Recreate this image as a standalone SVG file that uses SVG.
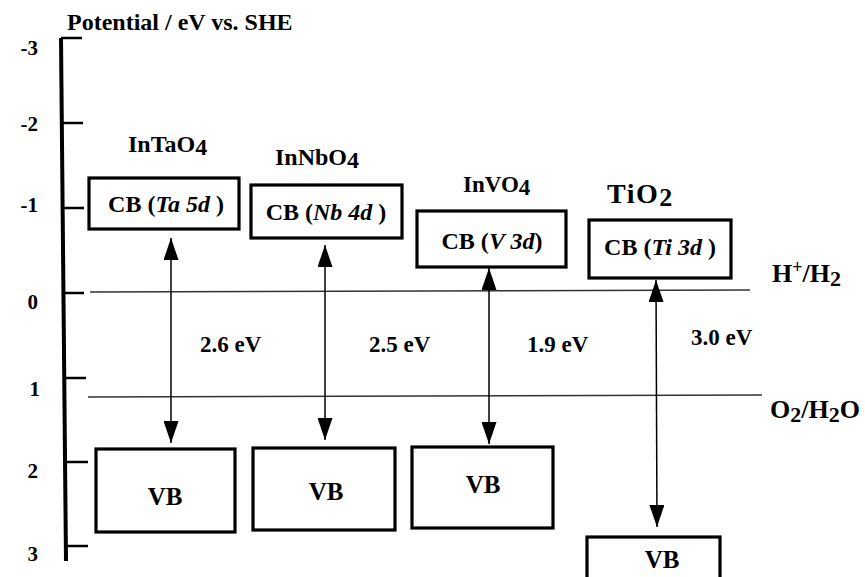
<svg xmlns="http://www.w3.org/2000/svg" width="865" height="577" viewBox="0 0 865 577">
<style>
text{font-family:"Liberation Serif","Times New Roman",serif;font-weight:bold;fill:#000}
.box{fill:none;stroke:#000;stroke-width:3.2}
.lvl{stroke:#333;stroke-width:1.3;fill:none}
.arr{stroke:#000;stroke-width:1.5;fill:none;marker-start:url(#ah);marker-end:url(#ah)}
.tick{stroke:#000;stroke-width:2.5}
.t{font-size:21px;text-anchor:end}
.cb{font-size:24px;text-anchor:middle}
.vb{font-size:25px;text-anchor:middle}
.mat{font-size:24px}
.ev{font-size:23px}
.i{font-style:italic}
</style>
<defs>
<marker id="ah" viewBox="0 0 22 15" markerWidth="22" markerHeight="15" refX="22" refY="7.5" orient="auto-start-reverse" markerUnits="userSpaceOnUse">
<path d="M0,0 L22,7.5 L0,15 Z" fill="#000"/>
</marker>
</defs>
<rect width="865" height="577" fill="#fff"/>
<g id="axis">
<text x="67" y="30" style="font-size:24px">Potential / eV vs. SHE</text>
<line x1="61" y1="38" x2="66" y2="561" stroke="#000" stroke-width="4"/>
<line class="tick" x1="61" y1="38" x2="82" y2="38"/>
<line class="tick" x1="62" y1="123" x2="83" y2="123"/>
<line class="tick" x1="63" y1="208" x2="84" y2="208"/>
<line class="tick" x1="63" y1="293" x2="84" y2="293"/>
<line class="tick" x1="64" y1="378" x2="86" y2="378"/>
<line class="tick" x1="65" y1="462" x2="88" y2="462"/>
<line class="tick" x1="66" y1="546" x2="88" y2="546"/>
<text class="t" x="38" y="55">-3</text>
<text class="t" x="38" y="131">-2</text>
<text class="t" x="38" y="212">-1</text>
<text class="t" x="38" y="309">0</text>
<text class="t" x="40" y="396">1</text>
<text class="t" x="38" y="478">2</text>
<text class="t" x="38" y="561">3</text>
</g>
<g id="levels">
<line class="lvl" x1="90" y1="292" x2="750" y2="290"/>
<line class="lvl" x1="88" y1="397" x2="762" y2="395"/>
<text x="772" y="282" style="font-size:26px">H<tspan dy="-9" style="font-size:18px">+</tspan><tspan dy="9">/H</tspan><tspan dy="4" style="font-size:22px">2</tspan></text>
<text x="770" y="418" style="font-size:26px">O<tspan dy="4" style="font-size:22px">2</tspan><tspan dy="-4">/H</tspan><tspan dy="4" style="font-size:22px">2</tspan><tspan dy="-4">O</tspan></text>
</g>
<g id="InTaO4">
<text class="mat" x="128" y="152">InTaO<tspan dy="3">4</tspan></text>
<rect class="box" x="89" y="178" width="150" height="51"/>
<text class="cb" x="166" y="212">CB (<tspan class="i">Ta 5d</tspan> )</text>
<rect class="box" x="96" y="449" width="139" height="83"/>
<text class="vb" x="165" y="505">VB</text>
</g>
<g id="InNbO4">
<text class="mat" x="275" y="165">InNbO<tspan dy="3">4</tspan></text>
<rect class="box" x="251" y="185" width="151" height="53"/>
<text class="cb" x="326" y="220">CB (<tspan class="i">Nb 4d</tspan> )</text>
<rect class="box" x="253" y="448" width="142" height="82"/>
<text class="vb" x="326" y="500">VB</text>
</g>
<g id="InVO4">
<text class="mat" x="463" y="192" style="font-size:23px">InVO<tspan dy="3">4</tspan></text>
<rect class="box" x="417" y="211" width="149" height="56"/>
<text class="cb" x="492" y="249">CB (<tspan class="i">V 3d</tspan>)</text>
<rect class="box" x="412" y="447" width="141" height="81"/>
<text class="vb" x="483" y="493">VB</text>
</g>
<g id="TiO2">
<text class="mat" x="607" y="203" style="font-size:28px;letter-spacing:1.5px">TiO<tspan dy="3" style="font-size:26px">2</tspan></text>
<rect class="box" x="589" y="220" width="142" height="58"/>
<text class="cb" x="660" y="255">CB (<tspan class="i">Ti 3d</tspan> )</text>
<rect class="box" x="587" y="537" width="133" height="60"/>
<text class="vb" x="662" y="568">VB</text>
</g>
<g id="connectors">
<line class="arr" x1="171" y1="238" x2="171" y2="443"/>
<line class="arr" x1="325" y1="245" x2="325" y2="440"/>
<line class="arr" x1="489" y1="268" x2="489" y2="444"/>
<line class="arr" x1="656" y1="280" x2="657" y2="527"/>
</g>
<g id="gaps">
<text class="ev" x="200" y="352">2.6 eV</text>
<text class="ev" x="369" y="352">2.5 eV</text>
<text class="ev" x="527" y="352">1.9 eV</text>
<text class="ev" x="691" y="345">3.0 eV</text>
</g>
</svg>
